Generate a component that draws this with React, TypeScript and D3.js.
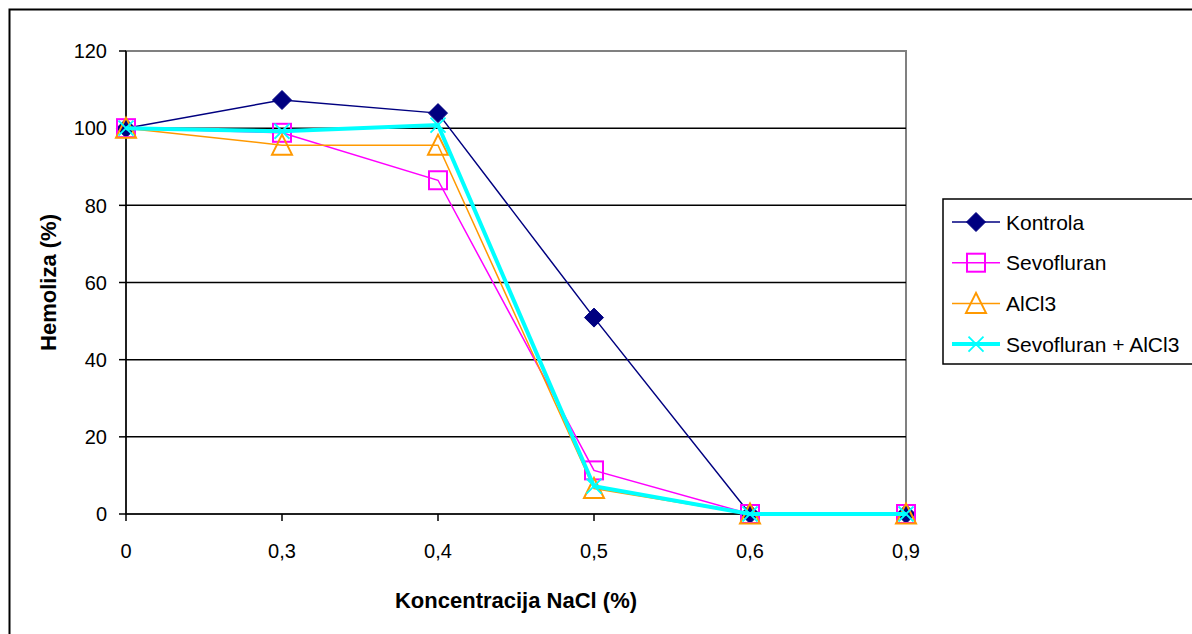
import React from "react";
import * as d3 from "d3";

const categories = ["0", "0,3", "0,4", "0,5", "0,6", "0,9"];
const kontrola = [100, 107.3, 103.9, 50.9, 0, 0];
const sevofluran = [100, 98.8, 86.5, 11.3, 0, 0];
const alcl3 = [100, 95.6, 95.6, 6.6, 0, 0];
const sevoAlcl3 = [100, 99.2, 100.8, 7.2, 0, 0];
const yTicks = [0, 20, 40, 60, 80, 100, 120];

const seriesNames = ["Kontrola", "Sevofluran", "AlCl3", "Sevofluran + AlCl3"];

const W = 1192;
const H = 634;
const left = 126;
const right = 906;
const top = 51;
const bottom = 514;
const font = "'Liberation Sans', Arial, sans-serif";

function Marker({ kind, x, y, color }: { kind: string; x: number; y: number; color: string }) {
  if (kind === "diamond") {
    const r = 9.5;
    return <path d={`M${x},${y - r}L${x + r},${y}L${x},${y + r}L${x - r},${y}Z`} fill={color} stroke={color} />;
  }
  if (kind === "square") {
    const s = 18;
    return <rect x={x - s / 2} y={y - s / 2} width={s} height={s} fill="none" stroke={color} strokeWidth={2} />;
  }
  if (kind === "triangle") {
    const w = 10, h = 19;
    return (
      <path
        d={`M${x},${y - h / 2 - 1}L${x + w},${y + h / 2}L${x - w},${y + h / 2}Z`}
        fill="none"
        stroke={color}
        strokeWidth={2}
      />
    );
  }
  const r = 7.5;
  return (
    <path
      d={`M${x - r},${y - r}L${x + r},${y + r}M${x + r},${y - r}L${x - r},${y + r}`}
      stroke={color}
      strokeWidth={1.8}
      fill="none"
    />
  );
}

export default function App() {
  const x = d3.scalePoint<string>().domain(categories).range([left, right]);
  const y = d3.scaleLinear().domain([0, 120]).range([bottom, top]);

  const series = [
    { name: seriesNames[0], values: kontrola, color: "#000080", width: 1.5, marker: "diamond" },
    { name: seriesNames[1], values: sevofluran, color: "#FF00FF", width: 1.5, marker: "square" },
    { name: seriesNames[2], values: alcl3, color: "#FF9900", width: 1.5, marker: "triangle" },
    { name: seriesNames[3], values: sevoAlcl3, color: "#00FFFF", width: 4, marker: "cross" },
  ];

  const line = d3
    .line<number>()
    .x((_, i) => x(categories[i]) as number)
    .y((d) => y(d));

  const legendX = 943;
  const legendY = 199;
  const legendRowH = 40.7;

  return (
    <svg
      width={W}
      height={H}
      style={{ position: "absolute", left: 0, top: 0, background: "#fff" }}
      fontFamily={font}
    >
      <rect x={0} y={0} width={W} height={H} fill="#fff" />
      <rect x={9.5} y={9.5} width={W + 20} height={H + 20} fill="none" stroke="#000" strokeWidth={2} />

      {/* plot area border */}
      <rect x={left} y={top} width={right - left} height={bottom - top} fill="none" stroke="#808080" strokeWidth={2} />

      {/* gridlines */}
      {yTicks.slice(1, -1).map((t) => (
        <line key={t} x1={left} x2={right} y1={y(t)} y2={y(t)} stroke="#000" strokeWidth={1.5} />
      ))}

      {/* axes */}
      <line x1={left} x2={left} y1={top} y2={bottom} stroke="#000" strokeWidth={1.5} />
      <line x1={left} x2={right} y1={bottom} y2={bottom} stroke="#000" strokeWidth={1.5} />
      {yTicks.map((t) => (
        <g key={t}>
          <line x1={left - 7} x2={left} y1={y(t)} y2={y(t)} stroke="#000" strokeWidth={1.5} />
          <text x={107} y={y(t)} dy="0.36em" textAnchor="end" fontSize={20}>
            {t}
          </text>
        </g>
      ))}
      {categories.map((c) => (
        <g key={c}>
          <line x1={x(c)} x2={x(c)} y1={bottom} y2={bottom + 7} stroke="#000" strokeWidth={1.5} />
          <text x={x(c)} y={558} textAnchor="middle" fontSize={20}>
            {c}
          </text>
        </g>
      ))}

      <text x={(left + right) / 2} y={608} textAnchor="middle" fontSize={22} fontWeight="bold">
        Koncentracija NaCl (%)
      </text>
      <text
        transform={`translate(48,${(top + bottom) / 2}) rotate(-90)`}
        textAnchor="middle"
        dy="0.36em"
        fontSize={22}
        fontWeight="bold"
      >
        Hemoliza (%)
      </text>

      {/* series */}
      {series.map((s) => (
        <g key={s.name}>
          <path d={line(s.values) || ""} fill="none" stroke={s.color} strokeWidth={s.width} />
          {s.values.map((v, i) => (
            <Marker key={i} kind={s.marker} x={x(categories[i]) as number} y={y(v)} color={s.color} />
          ))}
        </g>
      ))}

      {/* legend */}
      <rect x={legendX} y={legendY} width={W - legendX + 10} height={165} fill="#fff" stroke="#000" strokeWidth={1.5} />
      {series.map((s, i) => {
        const cy = legendY + 23 + i * legendRowH;
        return (
          <g key={s.name}>
            <line x1={952} x2={1000} y1={cy} y2={cy} stroke={s.color} strokeWidth={s.width} />
            <Marker kind={s.marker} x={976} y={cy} color={s.color} />
            <text x={1006} y={cy} dy="0.36em" fontSize={21}>
              {s.name}
            </text>
          </g>
        );
      })}
    </svg>
  );
}
